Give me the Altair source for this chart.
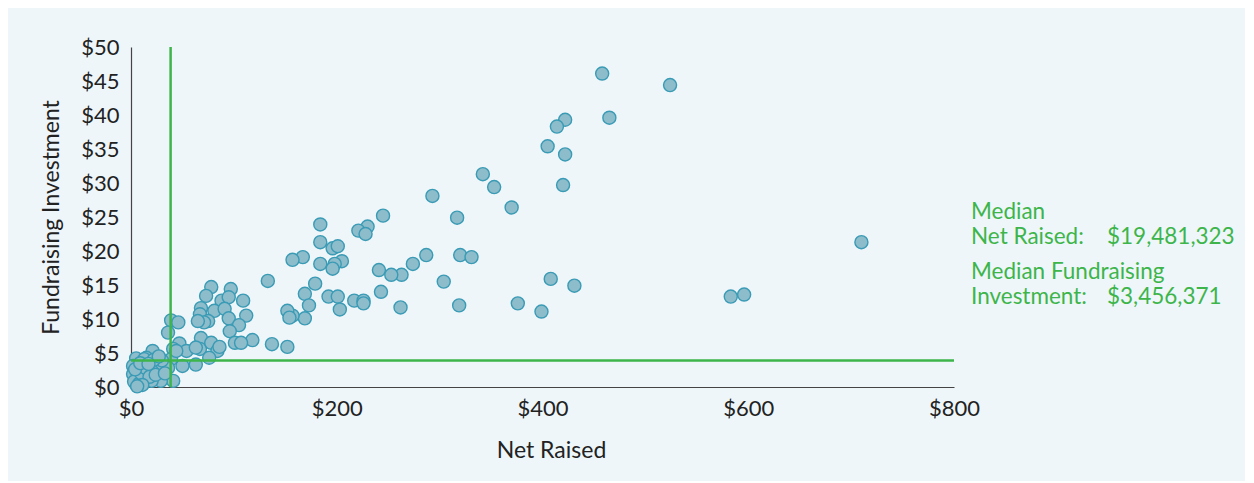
import altair as alt
import pandas as pd

# Net Raised ($M) and Fundraising Investment ($M)
net_raised = [
    458, 524, 465, 422, 414, 405, 422, 420, 342, 353, 370, 293, 317, 287, 274, 263,
    320, 331, 304, 262, 319, 376, 399, 408, 431, 583, 596, 710,
    245, 230, 221, 228, 184, 184, 196, 201, 167, 157, 184, 205, 198, 196, 241, 253,
    179, 169, 173, 169, 157, 192, 201, 203, 217, 226, 226, 243, 133, 152, 154, 118,
    137, 152,
    78, 97, 73, 88, 95, 109, 68, 81, 91, 67, 95, 112, 105, 96, 75, 71, 65, 39, 46,
    36, 68, 67, 47, 54, 41, 21, 63, 78, 84, 86, 101, 107, 76, 63, 50, 41, 29, 20,
    5, 15, 26, 13, 39, 36, 20, 7, 5, 7, 2, 12, 2,
    3, 8, 10, 14, 18, 24, 4, 9, 30, 33, 22, 17, 11, 6, 27, 44,
]
fund_invest = [
    46.1, 44.4, 39.6, 39.3, 38.3, 35.4, 34.2, 29.7, 31.3, 29.4, 26.4, 28.1, 24.9, 19.4, 18.1, 16.5,
    19.4, 19.1, 15.5, 11.7, 12.0, 12.3, 11.1, 15.9, 14.9, 13.3, 13.6, 21.3,
    25.2, 23.6, 23.0, 22.5, 23.9, 21.3, 20.4, 20.7, 19.1, 18.7, 18.1, 18.5, 18.1, 17.4, 17.2, 16.5,
    15.2, 13.7, 12.0, 10.1, 10.5, 13.3, 13.3, 11.4, 12.7, 12.7, 12.3, 14.0, 15.6, 11.2, 10.2, 6.9,
    6.3, 5.9,
    14.7, 14.4, 13.4, 12.7, 13.2, 12.7, 11.6, 11.2, 11.5, 10.7, 10.1, 10.5, 9.1, 8.2, 9.7, 9.5, 9.7, 9.8, 9.5,
    8.0, 7.2, 5.6, 6.4, 5.3, 5.6, 5.3, 5.8, 6.5, 5.3, 5.9, 6.5, 6.5, 4.3, 3.3, 3.1, 0.9, 0.9, 0.9,
    4.2, 4.3, 3.3, 4.1, 4.1, 2.8, 2.4, 2.4, 0.4, 1.4, 1.9, 1.4, 3.1,
    0.8, 0.5, 2.0, 2.8, 1.5, 1.8, 2.6, 3.5, 3.9, 2.0, 4.0, 3.4, 0.3, 0.1, 4.5, 5.3,
]

median_net_raised_line = 38.5
median_invest_line = 3.9

x_ticks = [0, 200, 400, 600, 800]
y_ticks = [0, 5, 10, 15, 20, 25, 30, 35, 40, 45, 50]

ann_labels = ["Median", "Net Raised:", "Median Fundraising", "Investment:"]
ann_values = ["", "$19,481,323", "", "$3,456,371"]

df = pd.DataFrame({"net": net_raised, "inv": fund_invest})

GREEN = "#3DB54A"
FONT = "Lato"

xscale = alt.Scale(domain=[0, 800], nice=False)
yscale = alt.Scale(domain=[0, 50], nice=False)

xaxis = alt.Axis(values=x_ticks, labelExpr="'$' + datum.value", titleX=420,
                 labelFlush=False, labelOverlap=False, labelPadding=11, titlePadding=20)
yaxis = alt.Axis(values=y_ticks, labelExpr="'$' + datum.value",
                 labelFlush=False, labelOverlap=False, labelPadding=12, titlePadding=17,
                 labelBound=False)

points = alt.Chart(df).mark_circle(
    size=170, color="#8DBCCB", opacity=1, stroke="#3A9BB5", strokeWidth=1.4
).encode(
    x=alt.X("net:Q", scale=xscale, title="Net Raised", axis=xaxis),
    y=alt.Y("inv:Q", scale=yscale, title="Fundraising Investment", axis=yaxis),
)

vline = alt.Chart(pd.DataFrame({"x": [median_net_raised_line], "y": [0], "y2": [50]})).mark_rule(
    color=GREEN, strokeWidth=2.5
).encode(
    x=alt.X("x:Q", scale=xscale, title="Net Raised", axis=xaxis),
    y=alt.Y("y:Q", scale=yscale, title="Fundraising Investment", axis=yaxis),
    y2="y2:Q",
)

hline = alt.Chart(pd.DataFrame({"y": [median_invest_line], "x": [0], "x2": [800]})).mark_rule(
    color=GREEN, strokeWidth=2.5
).encode(
    y=alt.Y("y:Q", scale=yscale, title="Fundraising Investment", axis=yaxis),
    x=alt.X("x:Q", scale=xscale, title="Net Raised", axis=xaxis),
    x2="x2:Q",
)

ann_df = pd.DataFrame({"label": ann_labels, "value": ann_values,
                       "ypix": [165, 190, 225, 250]})

ann_text = alt.Chart(ann_df).mark_text(
    align="left", baseline="middle", font=FONT, fontSize=22.5, color=GREEN
).encode(x=alt.value(840), y=alt.Y("ypix:Q", scale=None), text="label:N")

ann_vals = alt.Chart(ann_df).mark_text(
    align="left", baseline="middle", font=FONT, fontSize=22.5, color=GREEN
).encode(x=alt.value(976), y=alt.Y("ypix:Q", scale=None), text="value:N")

chart = alt.layer(points, vline, hline, ann_text, ann_vals).properties(
    width=823, height=340,
    autosize=alt.AutoSizeParams(type="none"),
    padding={"left": 123, "top": 39, "right": 291, "bottom": 94},
    background="#EEF6FA",
).configure_view(stroke=None).configure_axis(
    labelFont=FONT, titleFont=FONT, labelFontSize=22, titleFontSize=23,
    labelColor="#222222", titleColor="#222222", titleFontWeight="normal",
    domainColor="#444444", domainWidth=1.2, ticks=False, grid=False,
    labelOverlap=False,
)

chart.save("out.html", embed_options={"renderer": "svg", "actions": False})
